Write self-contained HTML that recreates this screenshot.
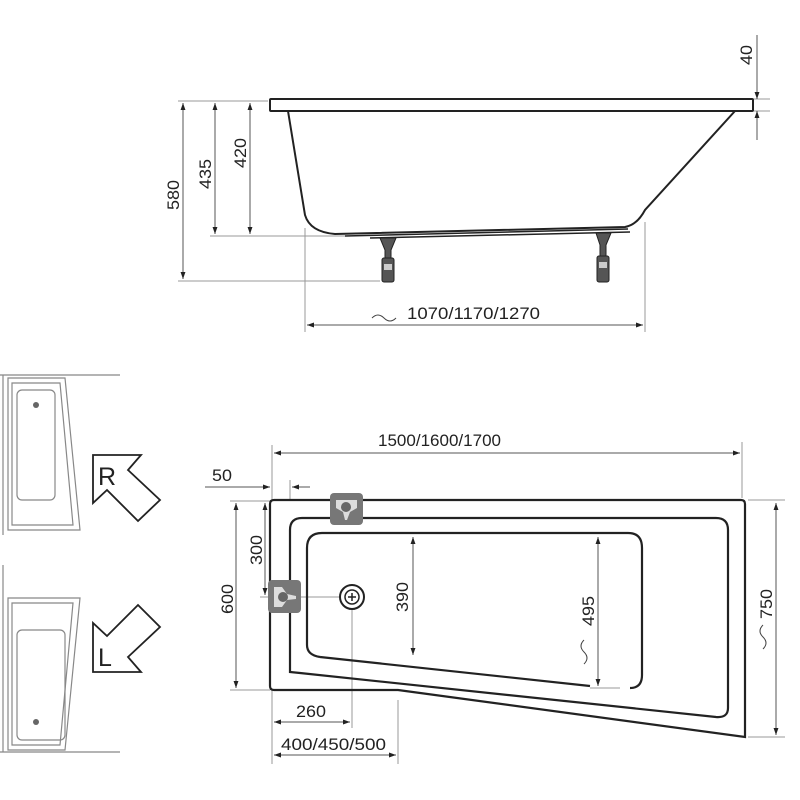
<!DOCTYPE html>
<html><head><meta charset="utf-8"><style>
html,body{margin:0;padding:0;background:#fff}
svg{display:block}
text{font-family:"Liberation Sans",sans-serif;fill:#222}
</style></head><body>
<svg width="800" height="800" viewBox="0 0 800 800" xmlns="http://www.w3.org/2000/svg">
<defs>
<marker id="a" viewBox="0 0 10 10" refX="10" refY="5" markerWidth="9" markerHeight="7" orient="auto-start-reverse" markerUnits="userSpaceOnUse"><path d="M0,1.5 L10,5 L0,8.5 Z" fill="#222"/></marker>
</defs>
<g stroke="#999" stroke-width="1" fill="none">
<line x1="178" y1="101" x2="268" y2="101"/>
<line x1="210" y1="236" x2="345" y2="236"/>
<line x1="178" y1="281" x2="380" y2="281"/>
<line x1="305" y1="228" x2="305" y2="332"/>
<line x1="645" y1="222" x2="645" y2="332"/>
<line x1="745" y1="99" x2="770" y2="99"/>
<line x1="745" y1="111" x2="770" y2="111"/>
<line x1="272" y1="445" x2="272" y2="500"/>
<line x1="742" y1="442" x2="742" y2="498"/>
<line x1="290" y1="480" x2="290" y2="500"/>
<line x1="230" y1="501" x2="270" y2="501"/>
<line x1="230" y1="690" x2="270" y2="690"/>
<line x1="260" y1="597" x2="340" y2="597"/>
<line x1="352" y1="610" x2="352" y2="728"/>
<line x1="272" y1="690" x2="272" y2="764"/>
<line x1="398" y1="700" x2="398" y2="764"/>
<line x1="748" y1="500" x2="785" y2="500"/>
<line x1="748" y1="737" x2="785" y2="737"/>
<line x1="590" y1="688" x2="620" y2="688"/>
</g>
<g stroke="#555" stroke-width="1" fill="none">
<line x1="183" y1="103" x2="183" y2="279" marker-start="url(#a)" marker-end="url(#a)"/>
<line x1="215" y1="103" x2="215" y2="234" marker-start="url(#a)" marker-end="url(#a)"/>
<line x1="250" y1="103" x2="250" y2="234" marker-start="url(#a)" marker-end="url(#a)"/>
<line x1="757" y1="35" x2="757" y2="99" marker-end="url(#a)"/>
<line x1="757" y1="140" x2="757" y2="111" marker-end="url(#a)"/>
<line x1="307" y1="325" x2="643" y2="325" marker-start="url(#a)" marker-end="url(#a)"/>
<line x1="274" y1="453" x2="740" y2="453" marker-start="url(#a)" marker-end="url(#a)"/>
<line x1="205" y1="487" x2="270" y2="487" marker-end="url(#a)"/>
<line x1="310" y1="487" x2="292" y2="487" marker-end="url(#a)"/>
<line x1="236" y1="503" x2="236" y2="688" marker-start="url(#a)" marker-end="url(#a)"/>
<line x1="265" y1="503" x2="265" y2="595" marker-start="url(#a)" marker-end="url(#a)"/>
<line x1="413" y1="537" x2="413" y2="655" marker-start="url(#a)" marker-end="url(#a)"/>
<line x1="598" y1="537" x2="598" y2="686" marker-start="url(#a)" marker-end="url(#a)"/>
<line x1="776" y1="503" x2="776" y2="735" marker-start="url(#a)" marker-end="url(#a)"/>
<line x1="274" y1="722" x2="350" y2="722" marker-start="url(#a)" marker-end="url(#a)"/>
<line x1="274" y1="755" x2="396" y2="755" marker-start="url(#a)" marker-end="url(#a)"/>
</g>
<g stroke="#222" stroke-width="2" fill="none">
<rect x="270" y="99" width="483" height="12" rx="1"/>
<path d="M288,111 L305,215 Q310,232 335,234 L625,227 Q637,225 645,210 L735,111"/>
<path d="M345,236 L628,229" stroke-width="1.5"/>
<path d="M370,238 L630,232" stroke-width="1.5"/>
</g>
<g fill="#555" stroke="#222" stroke-width="1">
<path d="M380,238 L396,238 L391,250 L391,258 L385,258 L385,250 Z"/>
<rect x="382" y="258" width="12" height="24" rx="2"/>
<path d="M596,233 L611,233 L606,245 L606,256 L600,256 L600,245 Z"/>
<rect x="597" y="256" width="12" height="26" rx="2"/>
</g>
<g fill="#ccc"><rect x="384" y="264" width="8" height="6"/><rect x="599" y="262" width="8" height="6"/></g>
<g stroke="#222" stroke-width="2.2" fill="none">
<path d="M270,504 Q270,500 274,500 L741,500 Q745,500 745,504 L745,737 L398,690 L274,690 Q270,690 270,686 Z"/>
<path d="M290,672 L290,530 Q290,518 302,518 L716,518 Q728,518 728,530 L728,708 Q728,718 716,717 L300,673 Z"/>
<path d="M320,657 Q307,655 307,645 L307,548 Q307,533 322,533 L628,533 Q642,533 642,548 L642,675 Q642,688 630,688"/>
<path d="M320,657 L590,686"/>
</g>
<g>
<rect x="330" y="493" width="33" height="32" rx="4" fill="#777"/>
<path d="M336,500 L357,500 L357,508 L350,512 L347,520 L345,520 L343,512 L336,508 Z" fill="#ddd"/>
<circle cx="346" cy="507" r="5" fill="#666"/>
<rect x="268" y="580" width="33" height="33" rx="4" fill="#777"/>
<path d="M274,587 L282,587 L287,594 L296,596 L296,599 L287,600 L282,607 L274,607 Z" fill="#ddd"/>
<circle cx="283" cy="597" r="5" fill="#666"/>
</g>
<circle cx="352" cy="597" r="12" fill="none" stroke="#222" stroke-width="2"/>
<circle cx="352" cy="597" r="7" fill="none" stroke="#222" stroke-width="1.5"/>
<path d="M352,593 V601 M348,597 H356" stroke="#222" stroke-width="1.5"/>
<g stroke="#444" stroke-width="1" fill="none">
<path d="M372,318 q6,-6 12,0 t12,0"/>
<path d="M584,640 q-6,6 0,12 t0,12"/>
<path d="M763,625 q-6,6 0,12 t0,12"/>
</g>
<g stroke="#888" stroke-width="1.2" fill="none">
<line x1="0" y1="375" x2="120" y2="375"/>
<line x1="0" y1="752" x2="120" y2="752"/>
<line x1="3" y1="375" x2="3" y2="535"/>
<line x1="3" y1="565" x2="3" y2="752"/>
<path d="M8,378 L65,378 L80,530 L8,530 Z"/>
<path d="M12,383 L60,383 L73,525 L12,525 Z"/>
<rect x="17" y="390" width="38" height="110" rx="5"/>
<path d="M8,598 L80,598 L65,750 L8,750 Z"/>
<path d="M12,603 L73,603 L60,745 L12,745 Z"/>
<rect x="17" y="630" width="48" height="110" rx="5"/>
</g>
<circle cx="36" cy="405" r="3" fill="#666"/>
<circle cx="36" cy="722" r="3" fill="#666"/>
<g stroke="#222" stroke-width="1.8" fill="none">
<path d="M93,455 L141,455 L128,470 L160,500 L138,521 L107,490 L93,503 Z"/>
<path d="M93,672 L141,672 L128,657 L160,627 L138,605 L107,636 L93,623 Z"/>
</g>
<text x="98" y="485" font-size="25">R</text>
<text x="98" y="666" font-size="25">L</text>
<g font-size="17">
<text x="0" y="0" transform="translate(179,210) rotate(-90)" textLength="30" lengthAdjust="spacingAndGlyphs">580</text>
<text x="0" y="0" transform="translate(211,189) rotate(-90)" textLength="30" lengthAdjust="spacingAndGlyphs">435</text>
<text x="0" y="0" transform="translate(246,168) rotate(-90)" textLength="30" lengthAdjust="spacingAndGlyphs">420</text>
<text x="0" y="0" transform="translate(752,65) rotate(-90)" textLength="20" lengthAdjust="spacingAndGlyphs">40</text>
<text x="407" y="319" textLength="133" lengthAdjust="spacingAndGlyphs">1070/1170/1270</text>
<text x="378" y="446" textLength="123" lengthAdjust="spacingAndGlyphs">1500/1600/1700</text>
<text x="212" y="481" textLength="20" lengthAdjust="spacingAndGlyphs">50</text>
<text x="0" y="0" transform="translate(233,614) rotate(-90)" textLength="30" lengthAdjust="spacingAndGlyphs">600</text>
<text x="0" y="0" transform="translate(262,565) rotate(-90)" textLength="30" lengthAdjust="spacingAndGlyphs">300</text>
<text x="0" y="0" transform="translate(408,612) rotate(-90)" textLength="30" lengthAdjust="spacingAndGlyphs">390</text>
<text x="0" y="0" transform="translate(594,626) rotate(-90)" textLength="30" lengthAdjust="spacingAndGlyphs">495</text>
<text x="0" y="0" transform="translate(772,619) rotate(-90)" textLength="30" lengthAdjust="spacingAndGlyphs">750</text>
<text x="296" y="717" textLength="30" lengthAdjust="spacingAndGlyphs">260</text>
<text x="281" y="750" textLength="105" lengthAdjust="spacingAndGlyphs">400/450/500</text>
</g>
</svg>
</body></html>
